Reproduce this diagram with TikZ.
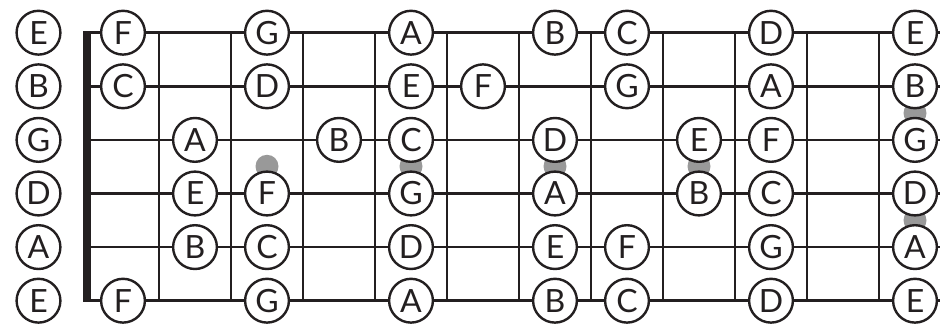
\documentclass[tikz,border=0pt]{standalone}
\usepackage{fontspec}
\setmainfont{Lato}
\definecolor{ink}{HTML}{231F20}
\definecolor{dotgray}{HTML}{999999}
\begin{document}
\begin{tikzpicture}[x=1pt,y=-1pt,
  note/.style={circle,draw=ink,fill=white,line width=2.4pt,minimum size=43.8pt,inner sep=0pt,font=\fontsize{32}{32}\selectfont,text=ink},
  stringline/.style={draw=ink,line width=2.7pt},
  fretline/.style={draw=ink,line width=2.7pt},
  marker/.style={circle,fill=dotgray,minimum size=23pt,inner sep=0pt}]
\useasboundingbox (0,0) rectangle (940,326);
\fill[white] (0,0) rectangle (940,326);
% string end points
\foreach \s in {1,...,6} {
  \coordinate (sL\s) at (87,{32.7+53.6*(\s-1)});
  \coordinate (sR\s) at (942,{32.7+53.6*(\s-1)});
}
% fret end points
\foreach \f in {1,...,11} {
  \coordinate (ft\f) at ({87+72*\f},32.7);
  \coordinate (fb\f) at ({87+72*\f},300.7);
}
\foreach \s in {1,...,6} \draw[stringline] (sL\s) -- (sR\s);
\foreach \f in {1,...,11} \draw[fretline] (ft\f) -- (fb\f);
% nut
\coordinate (nutT) at (83.3,31.4);
\coordinate (nutB) at (90.7,302);
\fill[ink] (nutT) rectangle (nutB);
% fret markers
\node[marker] (m3) at (267,166.3) {};
\node[marker] (m5) at (411,166.3) {};
\node[marker] (m7) at (555,166.3) {};
\node[marker] (m9) at (699,166.3) {};
\node[marker] (m12a) at (915,113.1) {};
\node[marker] (m12b) at (915,220.3) {};
% open strings
\foreach \s/\l in {1/E,2/B,3/G,4/D,5/A,6/E}
  \node[note] (o\s) at (38.5,{32.7+53.6*(\s-1)}) {\l};
% fretted notes
\foreach \s/\f/\l in {
  1/1/F,1/3/G,1/5/A,1/7/B,1/8/C,1/10/D,1/12/E,
  2/1/C,2/3/D,2/5/E,2/6/F,2/8/G,2/10/A,2/12/B,
  3/2/A,3/4/B,3/5/C,3/7/D,3/9/E,3/10/F,3/12/G,
  4/2/E,4/3/F,4/5/G,4/7/A,4/9/B,4/10/C,4/12/D,
  5/2/B,5/3/C,5/5/D,5/7/E,5/8/F,5/10/G,5/12/A,
  6/1/F,6/3/G,6/5/A,6/7/B,6/8/C,6/10/D,6/12/E}
  \node[note] (n\s-\f) at ({51+72*\f},{32.7+53.6*(\s-1)}) {\l};
\end{tikzpicture}
\end{document}
